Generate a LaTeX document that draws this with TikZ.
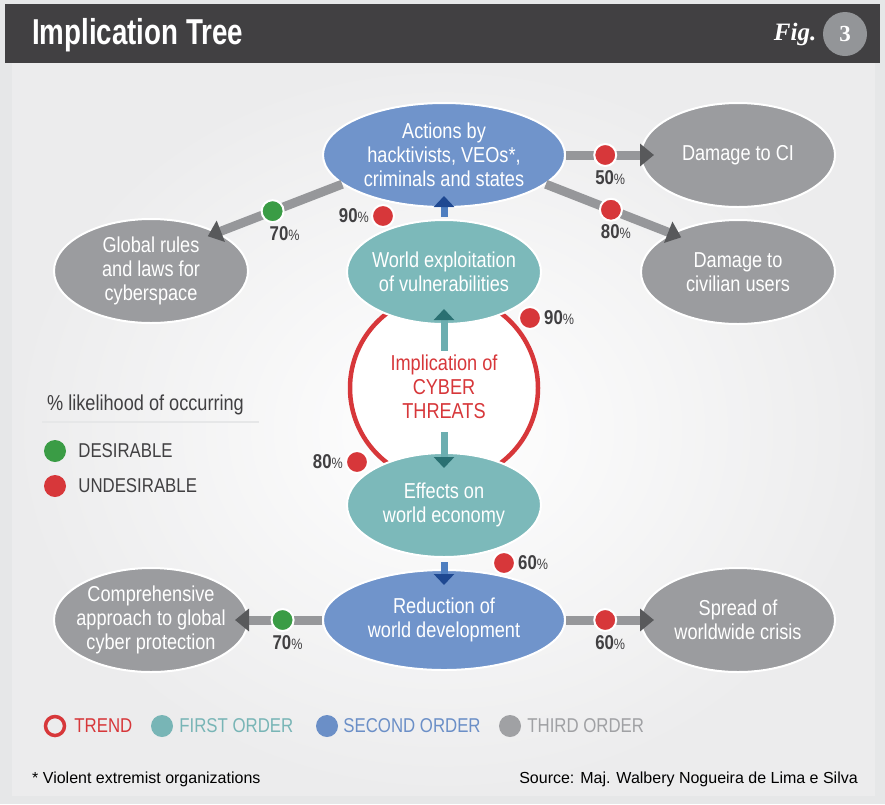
\documentclass[tikz,border=0pt]{standalone}
\usepackage{fontspec}
\setmainfont{Liberation Sans}[FakeStretch=0.84]
\newfontfamily\plainfont{Liberation Sans}
\newfontfamily\headfont{Liberation Sans}[FakeStretch=0.77]
\newfontfamily\figfont{Liberation Serif}
\usetikzlibrary{
  arrows.meta,
  shapes.geometric,
  positioning
}
\usepackage{xcolor}
\definecolor{cframe}{RGB}{230,231,232}
\definecolor{ctitle}{RGB}{65,64,66}
\definecolor{cpanel}{RGB}{236,236,237}
\definecolor{cfig}{RGB}{147,149,152}
\definecolor{ctext}{RGB}{65,64,66}
\definecolor{cred}{RGB}{215,55,58}
\definecolor{cgreen}{RGB}{58,156,69}
\definecolor{cteal}{RGB}{120,181,182}
\definecolor{cblue}{RGB}{107,143,199}
\definecolor{cgray}{RGB}{160,161,164}
\definecolor{clink}{RGB}{150,151,154}
\definecolor{cdark}{RGB}{88,89,91}
\definecolor{ctealin}{RGB}{124,185,186}
\definecolor{ctealout}{RGB}{96,158,160}
\definecolor{cbluein}{RGB}{112,148,203}
\definecolor{cblueout}{RGB}{82,118,180}
\definecolor{cgrayin}{RGB}{155,156,159}
\definecolor{cgrayout}{RGB}{122,123,127}
\definecolor{cblueshaft}{RGB}{78,126,192}
\definecolor{cbluetip}{RGB}{30,72,145}
\definecolor{ctealshaft}{RGB}{108,174,176}
\definecolor{ctealtip}{RGB}{42,112,114}
\pgfdeclareradialshading{tealshade}{\pgfpoint{0bp}{0bp}}{color(0bp)=(ctealin); color(24bp)=(ctealin); color(50bp)=(ctealout)}
\pgfdeclareradialshading{blueshade}{\pgfpoint{0bp}{0bp}}{color(0bp)=(cbluein); color(24bp)=(cbluein); color(50bp)=(cblueout)}
\pgfdeclareradialshading{grayshade}{\pgfpoint{0bp}{0bp}}{color(0bp)=(cgrayin); color(24bp)=(cgrayin); color(50bp)=(cgrayout)}
\newcommand{\pc}[1]{{\bfseries #1}{\fontsize{15}{15}\selectfont\%}}
\tikzset{
  order/.style={
    ellipse, draw=white, line width=2pt, text=white,
    font=\fontsize{21.6}{24}\selectfont, align=center,
    inner xsep=-16pt, inner ysep=0pt, minimum height=104pt
  },
  first/.style={order, shade, shading=tealshade, minimum width=194pt},
  second/.style={order, shade, shading=blueshade, minimum width=242pt},
  third/.style={order, shade, shading=grayshade, minimum width=194pt},
  trend/.style={circle, draw=cred, line width=4.5pt, fill=white, inner sep=0pt},
  dotR/.style={circle, fill=cred, draw=white, line width=2pt, minimum size=22pt, inner sep=0pt},
  dotG/.style={dotR, fill=cgreen},
  pct/.style={font=\fontsize{20}{22}\selectfont, text=ctext, inner sep=1pt},
  link/.style={line width=9pt, draw=clink, shorten >=-14pt,
    -{Triangle[length=14pt,width=22pt,color=cdark]}},
  upB/.style={line width=7pt, draw=cblueshaft,
    -{Triangle[length=11pt,width=20pt,color=cbluetip]}},
  upT/.style={line width=7pt, draw=ctealshaft,
    -{Triangle[length=11pt,width=20pt,color=ctealtip]}},
  key/.style={circle, minimum size=22pt, inner sep=0pt},
  keytxt/.style={anchor=west, font=\fontsize{20}{22}\selectfont, inner sep=0pt}
}

\begin{document}
\begin{tikzpicture}[x=1pt, y=-1pt]
  \useasboundingbox (0,0) rectangle (885,804);

  %% ---- frame and title ------------------------------------------
  \fill[cframe] (0,0) rectangle (885,804);
  \fill[ctitle] (5,4) rectangle (880,63);
  \shade[inner color=white, outer color=cpanel] (12,63) rectangle (875,795);

  \node[anchor=west, text=white, inner sep=0pt,
        font=\headfont\bfseries\fontsize{36}{40}\selectfont] (title) at (32,35)
    {Implication Tree};
  \node[circle, fill=cfig, minimum size=44pt, inner sep=0pt, text=white,
        font=\figfont\bfseries\fontsize{23}{23}\selectfont] (fignum) at (845,34) {3};
  \node[left=3pt of fignum, text=white,
        font=\figfont\bfseries\itshape\fontsize{25}{25}\selectfont] (figlbl) {Fig.};

  %% ---- trend ring -----------------------------------------------
  \node[trend, minimum size=188pt] (ring) at (444,388) {};
  \node[text=cred, font=\fontsize{21.6}{24}\selectfont, align=center, inner sep=0pt]
    (impl) at (444,387) {Implication of\\CYBER\\THREATS};

  %% ---- orders ---------------------------------------------------
  \node[second] (act)  at (444,155) {Actions by\\hacktivists, VEOs*,\\criminals and states};
  \node[first]  (wex)  at (444,272) {World exploitation\\of vulnerabilities};
  \node[first]  (eff)  at (444,505) {Effects on\\world economy};
  \node[second, minimum height=100pt] (rdev) at (444,620) {Reduction of\\world development};
  \node[third]  (ci)   at (738,155) {Damage to CI};
  \node[third]  (civ)  at (738,272) {Damage to\\civilian users};
  \node[third]  (glob) at (151,271) {Global rules\\and laws for\\cyberspace};
  \node[third]  (comp) at (151,620) {Comprehensive\\approach to global\\cyber protection};
  \node[third]  (spr)  at (738,620) {Spread of\\worldwide crisis};

  %% ---- vertical arrows ------------------------------------------
  \draw[upB, shorten <=2pt, shorten >=-12pt] (wex.north) -- (act.south);
  \draw[upT, shorten <=4pt, shorten >=-16pt] (impl.north) -- (wex.south);
  \draw[upT, shorten <=13pt, shorten >=-16pt] (impl.south) -- (eff.north);
  \draw[upB, shorten <=4pt, shorten >=-16pt] (eff.south) -- (rdev.north);

  %% ---- links to third order -------------------------------------
  \draw[link] (act.east) -- (ci.west) node[dotR, pos=0.53] (d50) {};
  \draw[link, shorten >=-11pt] (act.-16) -- (civ.150) node[dotR, pos=0.52] (d80) {};
  \draw[link, shorten >=-11pt] (act.196) -- (glob.30) node[dotG, pos=0.56] (g70) {};
  \draw[link] (rdev.west) -- (comp.east) node[dotG, pos=0.54] (c70) {};
  \draw[link] (rdev.east) -- (spr.west) node[dotR, pos=0.53] (s60) {};

  \node[pct, below=2pt of d50, xshift=5pt] {\pc{50}};
  \node[pct, below=2pt of d80, xshift=5pt] {\pc{80}};
  \node[pct, below=2pt of g70, xshift=12pt] {\pc{70}};
  \node[pct, below=2pt of c70, xshift=5pt] {\pc{70}};
  \node[pct, below=2pt of s60, xshift=5pt] {\pc{60}};

  %% ---- likelihoods on the trend ---------------------------------
  \node[dotR] (t1) at (383,216) {};
  \node[pct, left=1pt of t1] {\pc{90}};
  \node[dotR] (t2) at (530,318) {};
  \node[pct, right=1pt of t2] {\pc{90}};
  \node[dotR] (t3) at (357,462) {};
  \node[pct, left=1pt of t3] {\pc{80}};
  \node[dotR] (t4) at (504,563) {};
  \node[pct, right=1pt of t4] {\pc{60}};

  %% ---- legend: likelihood ---------------------------------------
  \node[keytxt, text=ctext, font=\fontsize{21.6}{24}\selectfont] (lhead) at (47,405)
    {\% likelihood of occurring};
  \draw[cframe, line width=2pt]
    ([shift={(-5pt,-7pt)}]lhead.south west) -- ([shift={(15pt,-7pt)}]lhead.south east);
  \node[key, fill=cgreen] (kg) at (55,451) {};
  \node[keytxt, text=ctext, right=12pt of kg] {DESIRABLE};
  \node[key, fill=cred] (kr) at (55,486) {};
  \node[keytxt, text=ctext, right=12pt of kr] {UNDESIRABLE};

  %% ---- legend: orders -------------------------------------------
  \node[key, draw=cred, line width=3.5pt, minimum size=19pt] (k1) at (55,726) {};
  \node[keytxt, text=cred, right=8pt of k1] {TREND};
  \node[key, fill=cteal] (k2) at (162,726) {};
  \node[keytxt, text=cteal, right=6pt of k2] {FIRST ORDER};
  \node[key, fill=cblue] (k3) at (327,726) {};
  \node[keytxt, text=cblue, right=5pt of k3] {SECOND ORDER};
  \node[key, fill=cgray] (k4) at (510,726) {};
  \node[keytxt, text=cgray, right=6pt of k4] {THIRD ORDER};

  %% ---- notes ----------------------------------------------------
  \node[anchor=west, inner sep=0pt, font=\plainfont\fontsize{16}{18}\selectfont]
    (fn) at (32,779) {* Violent extremist organizations};
  \node[anchor=east, inner sep=0pt, font=\plainfont\fontsize{16}{18}\selectfont]
    (src) at (858,779) {Source: Maj. Walbery Nogueira de Lima e Silva};
\end{tikzpicture}
\end{document}
